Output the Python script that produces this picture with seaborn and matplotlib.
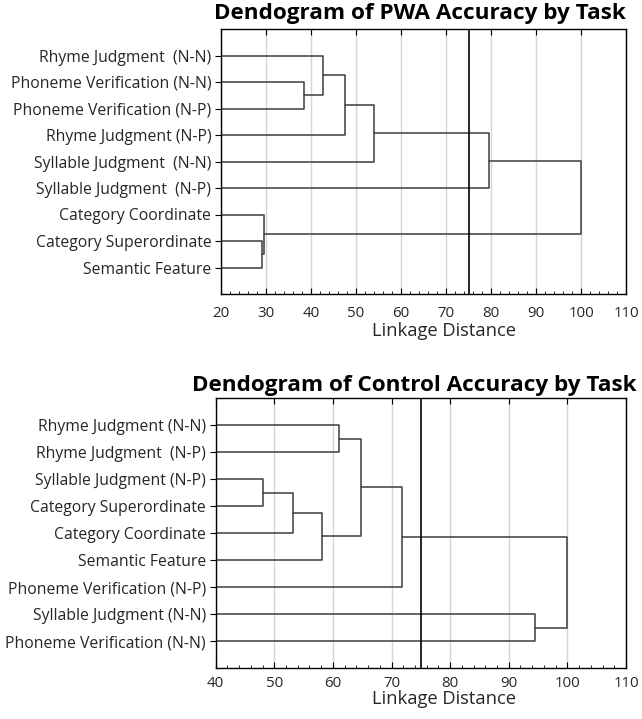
import numpy as np
import pandas as pd
import matplotlib
matplotlib.use("Agg")
import matplotlib.pyplot as plt
import seaborn as sns
from matplotlib.ticker import MultipleLocator

# ---------------- data ----------------
pwa_title = "Dendogram of PWA Accuracy by Task"
pwa_tasks = [
    "Rhyme Judgment  (N-N)",
    "Phoneme Verification (N-N)",
    "Phoneme Verification (N-P)",
    "Rhyme Judgment (N-P)",
    "Syllable Judgment  (N-N)",
    "Syllable Judgment  (N-P)",
    "Category Coordinate",
    "Category Superordinate",
    "Semantic Feature",
]
# merges: ids < 9 are tasks, id 9+k is the k-th merge
pwa_left = [1, 0, 10, 11, 12, 7, 6, 13]
pwa_right = [2, 9, 3, 4, 5, 8, 14, 15]
pwa_height = [38.5, 42.6, 47.5, 54.1, 79.6, 29.2, 29.6, 100.0]
pwa_xticks = [20, 30, 40, 50, 60, 70, 80, 90, 100, 110]

ctrl_title = "Dendogram of Control Accuracy by Task"
ctrl_tasks = [
    "Rhyme Judgment (N-N)",
    "Rhyme Judgment  (N-P)",
    "Syllable Judgment (N-P)",
    "Category Superordinate",
    "Category Coordinate",
    "Semantic Feature",
    "Phoneme Verification (N-P)",
    "Syllable Judgment (N-N)",
    "Phoneme Verification (N-N)",
]
ctrl_left = [0, 2, 10, 11, 9, 13, 7, 14]
ctrl_right = [1, 3, 4, 5, 12, 6, 8, 15]
ctrl_height = [61.1, 48.0, 53.2, 58.2, 64.8, 71.7, 94.5, 100.0]
ctrl_xticks = [40, 50, 60, 70, 80, 90, 100, 110]

cut_distance = 75
x_label = "Linkage Distance"


def dendro_segments(n, left, right, height):
    pos = {i: float(i) for i in range(n)}
    hgt = {i: 0.0 for i in range(n)}
    rows = []
    for k, (a, b, h) in enumerate(zip(left, right, height)):
        ya, yb = pos[a], pos[b]
        xs = [hgt[a], h, h, hgt[b]]
        ys = [ya, ya, yb, yb]
        for j, (xx, yy) in enumerate(zip(xs, ys)):
            rows.append({"seg": k, "order": j, "x": xx, "y": yy})
        pos[n + k] = (ya + yb) / 2.0
        hgt[n + k] = h
    return pd.DataFrame(rows)


sns.set_style("white")
plt.rcParams["font.family"] = ["Open Sans", "DejaVu Sans"]

fig = plt.figure(figsize=(6.42, 7.19), dpi=100)
W, H = 642, 719


def make_axes(l, t, r, b):
    return fig.add_axes([l / W, 1 - b / H, (r - l) / W, (b - t) / H])


ax1 = make_axes(221, 29, 626, 294)
ax2 = make_axes(215.7, 398, 626, 668)

text_col = "#262626"
line_col = "#3c3c3c"

for ax, tasks, left, right, height, xticks, title, tcy, tcx, lab_y, xpad in [
    (ax1, pwa_tasks, pwa_left, pwa_right, pwa_height, pwa_xticks, pwa_title, 14, 420, -0.105, 8.5),
    (ax2, ctrl_tasks, ctrl_left, ctrl_right, ctrl_height, ctrl_xticks, ctrl_title, 386, 414, -0.082, 6),
]:
    df = dendro_segments(len(tasks), left, right, height)
    sns.lineplot(data=df, x="x", y="y", units="seg", estimator=None, sort=False,
                 color=line_col, lw=1.1, ax=ax, legend=False)
    ax.axvline(cut_distance, color="black", lw=1.2, zorder=3)
    ax.set_xlim(xticks[0], xticks[-1])
    ax.set_ylim(len(tasks), -1)
    ax.set_xticks(xticks)
    ax.xaxis.set_minor_locator(MultipleLocator(2))
    ax.set_yticks(range(len(tasks)))
    ax.set_yticklabels(tasks)
    ax.grid(axis="x", which="major", color="#d4d4d4", lw=1)
    ax.set_axisbelow(True)
    for s in ax.spines.values():
        s.set_visible(True)
        s.set_color("black")
        s.set_linewidth(1.0)
    ax.tick_params(axis="x", which="major", direction="in", length=4, top=True,
                   bottom=True, labelsize=10.8, labelcolor=text_col, pad=xpad, color="black")
    ax.tick_params(axis="x", which="minor", direction="in", length=2, top=False,
                   bottom=True, color="black")
    ax.tick_params(axis="y", which="major", direction="out", length=4, left=True,
                   right=False, labelsize=11.3, labelcolor=text_col, pad=3, color="black")
    ax.set_xlabel(x_label, fontsize=13.2, color=text_col)
    ax.xaxis.set_label_coords((444 - ax.get_position().x0 * W) / (ax.get_position().width * W), lab_y)
    ax.set_ylabel("")
    fig.text(tcx / W, 1 - tcy / H, title, ha="center", va="center",
             fontsize=16.2, fontweight="bold", color="black")

fig.savefig("out.png", dpi=100)
